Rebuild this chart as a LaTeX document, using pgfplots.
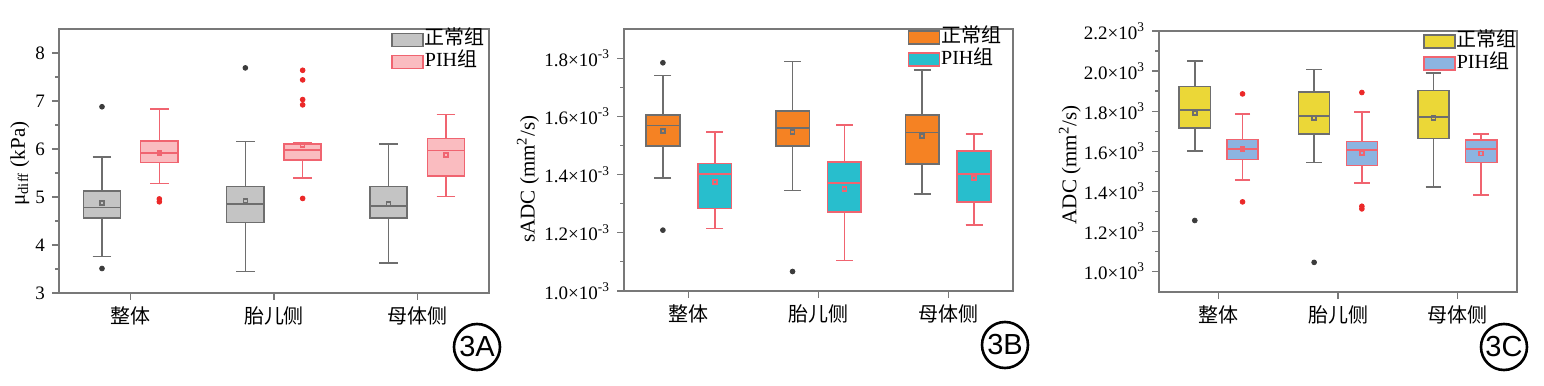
\documentclass[border=0pt]{standalone}
\usepackage{pgfplots}
\pgfplotsset{compat=1.18}
\usepgfplotslibrary{statistics}
\usepackage{fontspec}
\setmainfont{Liberation Serif}
\newfontfamily\cjk{Noto Sans CJK SC}
\newfontfamily\lsans{Liberation Sans}
\definecolor{axgray}{RGB}{120,120,120}
\definecolor{gfill}{RGB}{196,196,196}
\definecolor{gdraw}{RGB}{110,110,110}
\definecolor{pfill}{RGB}{250,188,192}
\definecolor{pdraw}{RGB}{240,100,112}
\definecolor{ofill}{RGB}{245,130,35}
\definecolor{tfill}{RGB}{40,190,205}
\definecolor{yfill}{RGB}{235,215,55}
\definecolor{bfill}{RGB}{140,180,225}
\definecolor{outred}{RGB}{235,40,40}
\definecolor{outdark}{RGB}{60,60,60}
\pgfplotsset{
  panel/.style={
    scale only axis, anchor=south west,
    xmin=-0.5, xmax=2.5, xtick={0,1,2},
    xticklabels={整体,胎儿侧,母体侧},
    xticklabel style={font=\cjk\fontsize{10}{12}\selectfont},
    yticklabel style={font=\fontsize{9.5}{11}\selectfont},
    ylabel style={font=\fontsize{10.5}{12}\selectfont},
    tick align=outside, tick pos=left,
    axis line style={axgray, line width=0.8pt},
    major tick length=3.5pt, minor tick length=2pt,
    every tick/.style={axgray, line width=0.6pt},
    minor y tick num=1,
    boxplot/draw direction=y,
    legend style={draw=none, fill=none, inner sep=0pt, anchor=north west,
      font=\fontsize{10}{11}\selectfont, row sep=1pt,
      nodes={inner sep=0.5pt, text height=7pt, text depth=2pt}},
    legend cell align=left,
    legend image code/.code={\draw[##1] (0pt,-3.3pt) rectangle (15.5pt,3.3pt);},
  },
  bx/.style n args={2}{forget plot, boxplot/draw direction=y, boxplot/box extend=0.26, boxplot/whisker extend=0.13,
    draw=#2, fill=#1, line width=0.8pt, mark=square, mark size=1pt,
    mark options={draw=#2!35, fill=none, line width=0.4pt},
    boxplot/every median/.style={draw=#2, line width=0.8pt},
    boxplot/every average/.style={/tikz/mark=square, /tikz/every mark/.append style={draw=#2!35, fill=none, line width=0.4pt}}},
  gbox/.style={bx={gfill}{gdraw}},
  pbox/.style={bx={pfill}{pdraw}},
  obox/.style={bx={ofill}{gdraw}},
  tbox/.style={bx={tfill}{pdraw}},
  ybox/.style={bx={yfill}{gdraw}},
  bbox/.style={bx={bfill}{pdraw}},
  dout/.style={forget plot, only marks, mark=*, mark size=1.2pt, mark options={draw=outdark, fill=outdark}},
  rout/.style={forget plot, only marks, mark=*, mark size=1.2pt, mark options={draw=outred, fill=outred}},
}
\begin{document}
\begin{tikzpicture}
\path[use as bounding box] (0,0) rectangle (772pt,193pt);
% ---------------- 3A
\begin{axis}[panel, at={(29.5pt,46.5pt)}, width=215pt, height=132pt,
  ymin=3, ymax=8.5, ytick={3,4,5,6,7,8}, yticklabels={3,4,5,6,7,8},
  ylabel={μ\textsubscript{diff} (kPa)},
  ylabel style={at={(axis description cs:-0.091,0.49)}, anchor=center},
  legend style={at={(axis description cs:0.772,0.998)}}]
\addlegendimage{draw=gdraw, fill=gfill, line width=0.8pt}
\addlegendentry{{\cjk 正常组}}
\addlegendimage{draw=pdraw, fill=pfill, line width=0.8pt}
\addlegendentry{PIH{\cjk 组}}
\addplot[gbox, boxplot prepared={draw position=-0.2, lower whisker=3.76, lower quartile=4.56, median=4.78, upper quartile=5.12, upper whisker=5.83, average=4.88}] coordinates {};
\addplot[pbox, boxplot prepared={draw position=0.2, lower whisker=5.28, lower quartile=5.72, median=5.92, upper quartile=6.17, upper whisker=6.83, average=5.92}] coordinates {};
\addplot[gbox, boxplot prepared={draw position=0.8, lower whisker=3.45, lower quartile=4.47, median=4.85, upper quartile=5.22, upper whisker=6.16, average=4.92}] coordinates {};
\addplot[pbox, boxplot prepared={draw position=1.2, lower whisker=5.40, lower quartile=5.77, median=5.98, upper quartile=6.11, upper whisker=6.13, average=6.08}] coordinates {};
\addplot[gbox, boxplot prepared={draw position=1.8, lower whisker=3.63, lower quartile=4.56, median=4.81, upper quartile=5.22, upper whisker=6.10, average=4.86}] coordinates {};
\addplot[pbox, boxplot prepared={draw position=2.2, lower whisker=5.01, lower quartile=5.44, median=5.97, upper quartile=6.22, upper whisker=6.72, average=5.88}] coordinates {};
\addplot[dout] coordinates {(-0.2,6.88) (-0.2,3.51) (0.8,7.69)};
\addplot[rout] coordinates {(0.2,4.96) (0.2,4.90) (1.2,7.64) (1.2,7.44) (1.2,7.03) (1.2,6.92) (1.2,4.97)};
\end{axis}
% ---------------- 3B
\begin{axis}[panel, at={(312pt,47.5pt)}, width=194.5pt, height=131pt,
  ymin=1.0, ymax=1.9, ytick={1.0,1.2,1.4,1.6,1.8},
  yticklabels={1.0×10\textsuperscript{-3},1.2×10\textsuperscript{-3},1.4×10\textsuperscript{-3},1.6×10\textsuperscript{-3},1.8×10\textsuperscript{-3}},
  ylabel={sADC (mm\textsuperscript{2}/s)},
  ylabel style={at={(axis description cs:-0.247,0.427)}, anchor=center},
  legend style={at={(axis description cs:0.728,1.008)}}]
\addlegendimage{draw=gdraw, fill=ofill, line width=0.8pt}
\addlegendentry{{\cjk 正常组}}
\addlegendimage{draw=pdraw, fill=tfill, line width=0.8pt}
\addlegendentry{PIH{\cjk 组}}
\addplot[obox, boxplot prepared={draw position=-0.2, lower whisker=1.388, lower quartile=1.499, median=1.568, upper quartile=1.604, upper whisker=1.740, average=1.549}] coordinates {};
\addplot[tbox, boxplot prepared={draw position=0.2, lower whisker=1.215, lower quartile=1.284, median=1.401, upper quartile=1.438, upper whisker=1.547, average=1.375}] coordinates {};
\addplot[obox, boxplot prepared={draw position=0.8, lower whisker=1.345, lower quartile=1.498, median=1.559, upper quartile=1.618, upper whisker=1.789, average=1.546}] coordinates {};
\addplot[tbox, boxplot prepared={draw position=1.2, lower whisker=1.105, lower quartile=1.272, median=1.372, upper quartile=1.444, upper whisker=1.571, average=1.350}] coordinates {};
\addplot[obox, boxplot prepared={draw position=1.8, lower whisker=1.334, lower quartile=1.437, median=1.544, upper quartile=1.604, upper whisker=1.760, average=1.532}] coordinates {};
\addplot[tbox, boxplot prepared={draw position=2.2, lower whisker=1.227, lower quartile=1.306, median=1.401, upper quartile=1.481, upper whisker=1.539, average=1.389}] coordinates {};
\addplot[dout] coordinates {(-0.2,1.784) (-0.2,1.209) (0.8,1.067)};
\end{axis}
% ---------------- 3C
\begin{axis}[panel, at={(579.5pt,47pt)}, width=179pt, height=130.5pt,
  ymin=0.897, ymax=2.2, ytick={1.0,1.2,1.4,1.6,1.8,2.0,2.2},
  yticklabels={1.0×10\textsuperscript{3},1.2×10\textsuperscript{3},1.4×10\textsuperscript{3},1.6×10\textsuperscript{3},1.8×10\textsuperscript{3},2.0×10\textsuperscript{3},2.2×10\textsuperscript{3}},
  ylabel={ADC (mm\textsuperscript{2}/s)},
  ylabel style={at={(axis description cs:-0.249,0.487)}, anchor=center},
  legend style={at={(axis description cs:0.737,1.0)}}]
\addlegendimage{draw=gdraw, fill=yfill, line width=0.8pt}
\addlegendentry{{\cjk 正常组}}
\addlegendimage{draw=pdraw, fill=bfill, line width=0.8pt}
\addlegendentry{PIH{\cjk 组}}
\addplot[ybox, boxplot prepared={draw position=-0.2, lower whisker=1.601, lower quartile=1.715, median=1.805, upper quartile=1.923, upper whisker=2.051, average=1.792}] coordinates {};
\addplot[bbox, boxplot prepared={draw position=0.2, lower whisker=1.456, lower quartile=1.558, median=1.612, upper quartile=1.659, upper whisker=1.785, average=1.612}] coordinates {};
\addplot[ybox, boxplot prepared={draw position=0.8, lower whisker=1.543, lower quartile=1.687, median=1.777, upper quartile=1.895, upper whisker=2.007, average=1.767}] coordinates {};
\addplot[bbox, boxplot prepared={draw position=1.2, lower whisker=1.441, lower quartile=1.529, median=1.606, upper quartile=1.649, upper whisker=1.795, average=1.591}] coordinates {};
\addplot[ybox, boxplot prepared={draw position=1.8, lower whisker=1.420, lower quartile=1.664, median=1.770, upper quartile=1.903, upper whisker=1.991, average=1.767}] coordinates {};
\addplot[bbox, boxplot prepared={draw position=2.2, lower whisker=1.380, lower quartile=1.543, median=1.611, upper quartile=1.656, upper whisker=1.687, average=1.588}] coordinates {};
\addplot[dout] coordinates {(-0.2,1.254) (0.8,1.045)};
\addplot[rout] coordinates {(0.2,1.886) (0.2,1.347) (1.2,1.893) (1.2,1.325) (1.2,1.312)};
\end{axis}
% panel labels
\node[circle, draw, line width=1.3pt, minimum size=23pt, inner sep=0pt, font=\lsans\fontsize{14.5}{15}\selectfont] at (238.5pt,19.5pt) {3A};
\node[circle, draw, line width=1.3pt, minimum size=23pt, inner sep=0pt, font=\lsans\fontsize{14.5}{15}\selectfont] at (502.5pt,20.5pt) {3B};
\node[circle, draw, line width=1.3pt, minimum size=23pt, inner sep=0pt, font=\lsans\fontsize{14.5}{15}\selectfont] at (752pt,19.5pt) {3C};
\end{tikzpicture}
\end{document}
